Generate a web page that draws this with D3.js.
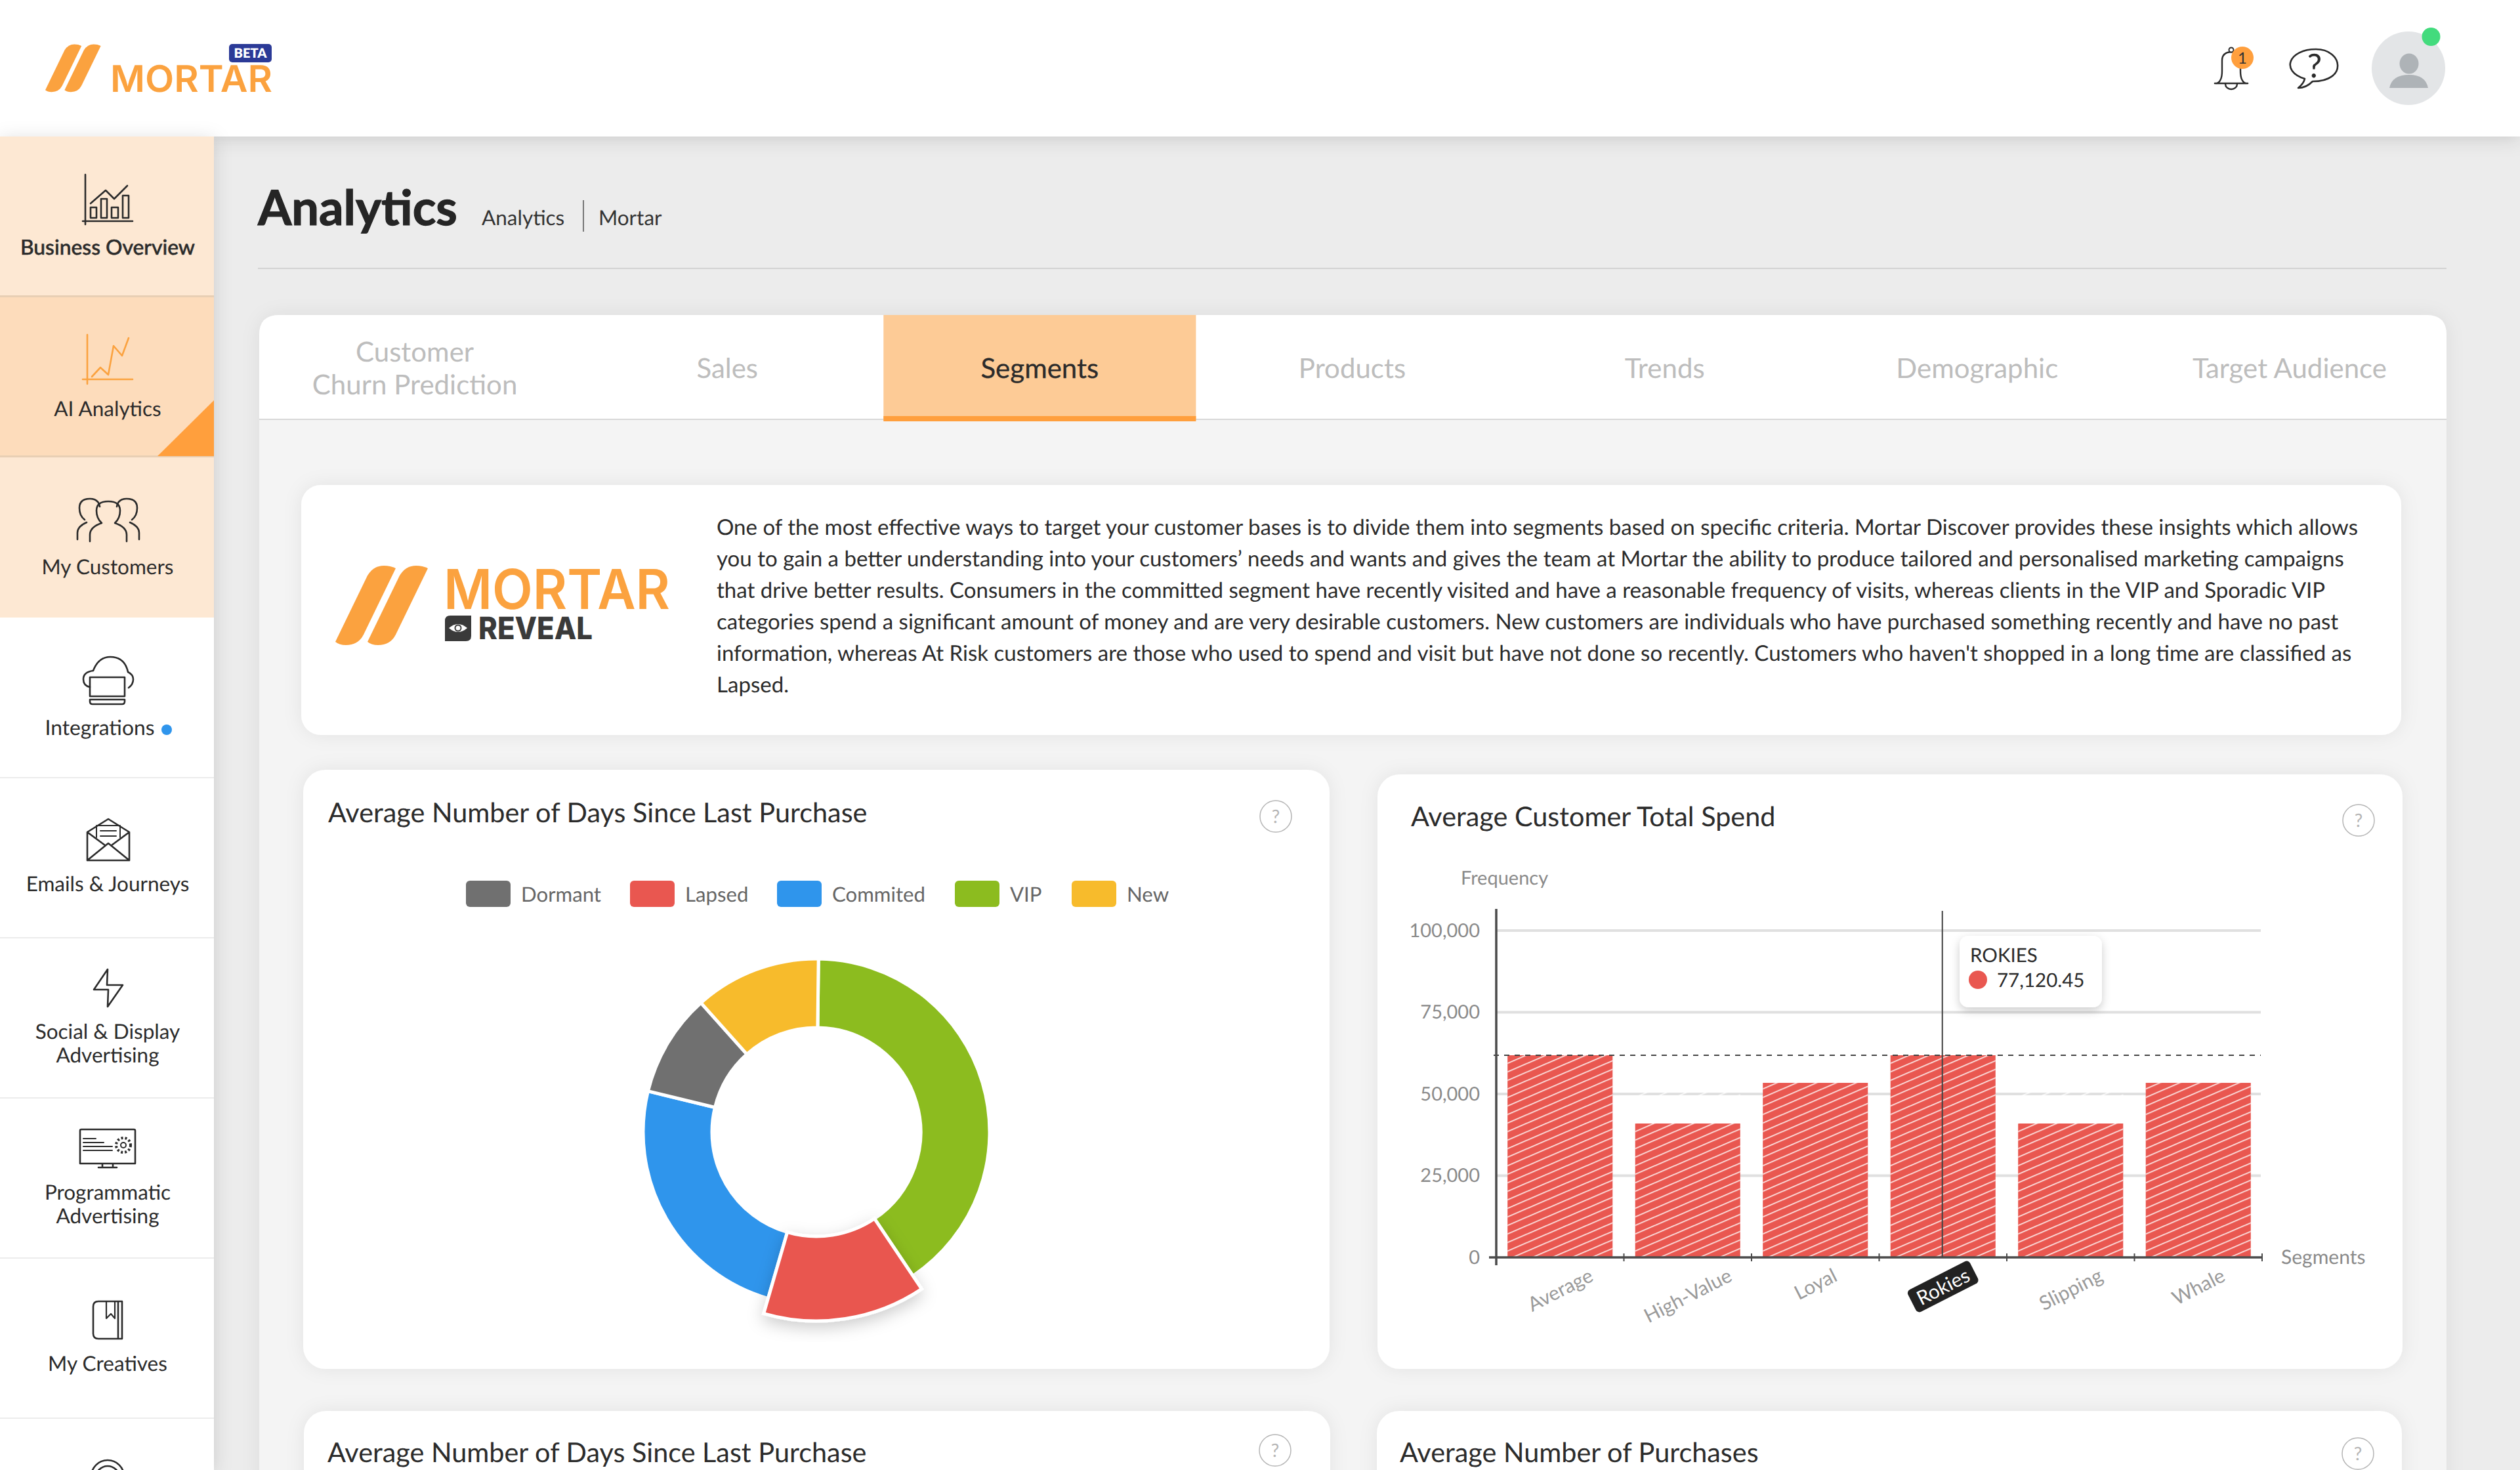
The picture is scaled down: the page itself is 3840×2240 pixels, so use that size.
<!DOCTYPE html>
<html>
<head>
<meta charset="utf-8">
<title>Mortar Analytics</title>
<script src="https://cdnjs.cloudflare.com/ajax/libs/d3/7.8.5/d3.min.js"></script>
<style>
html, body { margin: 0; padding: 0; background: #ececec; overflow: hidden; }
svg { display: block; }
text { font-family: Lato, "Open Sans", sans-serif; text-rendering: geometricPrecision; }
.logo { font-family: Inter, "Open Sans", sans-serif; }
</style>
</head>
<body>
<div id="page"></div>
<script>
// Data
var segmentNames = ["Dormant", "Lapsed", "Commited", "VIP", "New"];
var segmentValues = [9.6, 13.9, 24.3, 40.4, 11.8];
var segmentColors = ["#707070", "#e95750", "#2f95ec", "#8cbc1f", "#f7bb2c"];
var donutOrder = ["VIP", "Commited", "Dormant", "New", "Lapsed"];
var donutClockwise = ["VIP", "Lapsed", "Commited", "Dormant", "New"];

var spendCategories = ["Average", "High-Value", "Loyal", "Rokies", "Slipping", "Whale"];
var spendValues = [61850, 40960, 53400, 61850, 40960, 53400];
var spendTicks = [0, 25000, 50000, 75000, 100000];
var spendAverage = 61850;

var tabNames = [["Customer", "Churn Prediction"], ["Sales"], ["Segments"], ["Products"], ["Trends"], ["Demographic"], ["Target Audience"]];
var introLines = [
    "One of the most effective ways to target your customer bases is to divide them into segments based on specific criteria. Mortar Discover provides these insights which allows",
    "you to gain a better understanding into your customers\u2019 needs and wants and gives the team at Mortar the ability to produce tailored and personalised marketing campaigns",
    "that drive better results. Consumers in the committed segment have recently visited and have a reasonable frequency of visits, whereas clients in the VIP and Sporadic VIP",
    "categories spend a significant amount of money and are very desirable customers. New customers are individuals who have purchased something recently and have no past",
    "information, whereas At Risk customers are those who used to spend and visit but have not done so recently. Customers who haven't shopped in a long time are classified as",
    "Lapsed."
];

var svg = d3.select("#page").append("svg")
    .attr("width", 3840)
    .attr("height", 2240)
    .attr("viewBox", "0 0 3840 2240");

var defs = svg.append("defs");

function addShadow(id, dy, blur, opacity) {
    defs.append("filter")
        .attr("id", id)
        .attr("x", "-20%").attr("y", "-20%")
        .attr("width", "140%").attr("height", "140%")
        .append("feDropShadow")
        .attr("dx", 0).attr("dy", dy)
        .attr("stdDeviation", blur)
        .attr("flood-color", "#000")
        .attr("flood-opacity", opacity);
}
addShadow("cardShadow", 0, 14, 0.07);
addShadow("barShadow", 4, 14, 0.14);
addShadow("tipShadow", 5, 7, 0.2);
addShadow("sliceShadow", 8, 12, 0.2);

// each bar sits in its own translated space so the stripes start the same way on every bar
var hatch = defs.append("pattern")
    .attr("id", "hatch")
    .attr("patternUnits", "userSpaceOnUse")
    .attr("y", 1828.3)
    .attr("width", 30.2)
    .attr("height", 13);
hatch.append("path")
    .attr("d", "M-7.55,16.25 L37.75,-3.25 M-7.55,3.25 L7.55,-3.25 M22.65,16.25 L37.75,9.75")
    .attr("stroke", "#fff")
    .attr("stroke-width", 1.6)
    .attr("fill", "none");

// helpers
function rect(g, x, y, w, h, fill, r) {
    return g.append("rect")
        .attr("x", x).attr("y", y)
        .attr("width", w).attr("height", h)
        .attr("rx", r || 0)
        .attr("fill", fill);
}
function label(g, str, x, y, size, fill, anchor, weight) {
    return g.append("text")
        .attr("x", x).attr("y", y)
        .attr("font-size", size)
        .attr("fill", fill)
        .attr("text-anchor", anchor || "start")
        .attr("font-weight", weight || 400)
        .text(str);
}
function line(g, d, color, w) {
    return g.append("path")
        .attr("d", d)
        .attr("fill", "none")
        .attr("stroke", color || "#2b2b2b")
        .attr("stroke-width", w || 2.6)
        .attr("stroke-linejoin", "round")
        .attr("stroke-linecap", "round");
}
function slashes(g, x, y, k) {
    var s = "M0,117 L49,16 Q58,1 74,1 Q84,1 92,5 L43,106 Q35,122 16,122 Q6,122 0,117 Z";
    var logo = g.append("g").attr("transform", "translate(" + x + "," + y + ") scale(" + k + ")");
    logo.append("path").attr("d", s).attr("fill", "#fba23f");
    logo.append("path").attr("d", s).attr("fill", "#fba23f").attr("transform", "translate(49,0)");
}

// page background
rect(svg, 0, 0, 3840, 2240, "#ececec");

// content panel and heading
label(svg, "Analytics", 393, 343, 74, "#252525", "start", 700)
    .attr("stroke", "#252525").attr("stroke-width", 1.2);
label(svg, "Analytics", 734, 343, 31.5, "#333");
label(svg, "Mortar", 912, 343, 31.5, "#333");
rect(svg, 888, 305, 2, 48, "#777");
rect(svg, 393, 408, 3335, 2, "#d3d3d3");

var panel = svg.append("g");
rect(panel, 395, 480, 3333, 1800, "#f4f4f4", 30).attr("filter", "url(#cardShadow)");
panel.append("path")
    .attr("d", "M395,639 V510 Q395,480 425,480 H3698 Q3728,480 3728,510 V639 Z")
    .attr("fill", "#fff");
rect(panel, 395, 638, 3333, 2, "#d8d8d8");

// tabs
var tabX = d3.scaleBand().domain(d3.range(tabNames.length)).range([395, 3728]);
rect(panel, tabX(2) - 1, 480, tabX.bandwidth(), 159, "#fdcb96");
rect(panel, tabX(2) - 1, 634, tabX.bandwidth(), 8, "#ff9f3d");
tabNames.forEach(function(t, i) {
    var cx = tabX(i) + tabX.bandwidth() / 2 - 1;
    t.forEach(function(s, j) {
        var y = t.length > 1 ? 551 + j * 50 : 576;
        label(panel, s, cx, y, 42, i === 2 ? "#2b2b2b" : "#bdbdbd", "middle", 400)
            .attr("stroke", i === 2 ? "#2b2b2b" : "none").attr("stroke-width", 0.3);
    });
});

// intro card
var intro = svg.append("g");
rect(intro, 459, 739, 3200, 381, "#fff", 30).attr("filter", "url(#cardShadow)");
slashes(intro, 511, 861, 1);
label(intro, "MORTAR", 676, 928, 84, "#fba23f", "start", 600)
    .attr("class", "logo")
    .attr("textLength", 345)
    .attr("lengthAdjust", "spacingAndGlyphs");
label(intro, "REVEAL", 729, 974, 47, "#3a3a3a", "start", 800)
    .attr("class", "logo")
    .attr("textLength", 174)
    .attr("lengthAdjust", "spacingAndGlyphs");
intro.append("path")
    .attr("d", "M686,938 H718 V969 Q718,977 710,977 H678 V946 Q678,938 686,938 Z")
    .attr("fill", "#3a3a3a");
intro.append("path")
    .attr("d", "M684,957 Q698,945 712,957 Q698,969 684,957 Z")
    .attr("fill", "#fff");
intro.append("circle").attr("cx", 698).attr("cy", 957).attr("r", 4.5)
    .attr("fill", "none").attr("stroke", "#3a3a3a").attr("stroke-width", 2);
introLines.forEach(function(s, i) {
    label(intro, s, 1092, 815 + i * 48, 33.05, "#2b2b2b");
});

// card shells
function card(x, y, w, h, title, tx, ty, hx, hy) {
    var g = svg.append("g");
    rect(g, x, y, w, h, "#fff", 34).attr("filter", "url(#cardShadow)");
    label(g, title, tx, ty, 41.4, "#2b2b2b");
    g.append("circle").attr("cx", hx).attr("cy", hy).attr("r", 24)
        .attr("fill", "#fff").attr("stroke", "#b5b5b5").attr("stroke-width", 1.5);
    label(g, "?", hx, hy + 10, 28, "#b5b5b5", "middle");
    return g;
}
var donutCard = card(462, 1173, 1564, 913, "Average Number of Days Since Last Purchase", 500, 1253, 1944, 1244);
var spendCard = card(2099, 1180, 1562, 906, "Average Customer Total Spend", 2150, 1259, 3594, 1250);
card(463, 2150, 1564, 300, "Average Number of Days Since Last Purchase", 499, 2228, 1943, 2210);
card(2098, 2150, 1562, 300, "Average Number of Purchases", 2133, 2228, 3593, 2215);

// legend
var legendX = [710, 960, 1184, 1455, 1633];
var legend = donutCard.selectAll(".legend")
    .data(segmentNames)
    .enter()
    .append("g")
    .attr("class", "legend")
    .attr("transform", function(d, i) { return "translate(" + legendX[i] + ",1342)"; });
legend.append("rect")
    .attr("width", 68)
    .attr("height", 40)
    .attr("rx", 6)
    .attr("fill", function(d, i) { return segmentColors[i]; });
legend.append("text")
    .attr("x", 84)
    .attr("y", 32)
    .attr("font-size", 31.2)
    .attr("fill", "#666")
    .text(function(d) { return d; });

// donut
var segments = segmentNames.map(function(d, i) {
    return { name: d, value: segmentValues[i], color: segmentColors[i] };
});
var donutStart = 0.7 * Math.PI / 180;
var pie = d3.pie()
    .value(function(d) { return d.value; })
    .startAngle(donutStart)
    .endAngle(donutStart + 2 * Math.PI)
    .sort(function(a, b) { return donutClockwise.indexOf(a.name) - donutClockwise.indexOf(b.name); });
var arc = d3.arc()
    .innerRadius(159)
    .outerRadius(function(d) { return d.data.name === "Lapsed" ? 288 : 264; });
var slices = pie(segments).sort(function(a, b) {
    return donutOrder.indexOf(a.data.name) - donutOrder.indexOf(b.data.name);
});
donutCard.append("g")
    .attr("transform", "translate(1244,1725)")
    .selectAll("path")
    .data(slices)
    .enter()
    .append("path")
    .attr("d", arc)
    .attr("fill", function(d) { return d.data.color; })
    .attr("stroke", "#fff")
    .attr("stroke-width", 5)
    .attr("filter", function(d) { return d.data.name === "Lapsed" ? "url(#sliceShadow)" : null; });

// bar chart
var x = d3.scaleBand()
    .domain(spendCategories)
    .range([2280, 3447])
    .paddingInner(0.177)
    .paddingOuter(0.0885);
var y = d3.scaleLinear()
    .domain([0, 100000])
    .range([1916, 1418]);

var grid = spendCard.append("g");
grid.selectAll("line")
    .data(spendTicks.slice(1))
    .enter()
    .append("line")
    .attr("x1", 2280)
    .attr("x2", 3445)
    .attr("y1", function(d) { return y(d); })
    .attr("y2", function(d) { return y(d); })
    .attr("stroke", "#e0e0e0")
    .attr("stroke-width", 4);

// white hatching stays over the grid above the shorter bars
spendCard.append("g").selectAll("rect")
    .data(spendCategories)
    .enter()
    .append("rect")
    .attr("transform", function(d) { return "translate(" + x(d) + ",0)"; })
    .attr("y", y(spendAverage))
    .attr("width", x.bandwidth())
    .attr("height", y(0) - y(spendAverage))
    .attr("fill", "url(#hatch)");

var bars = spendCard.append("g");
bars.selectAll(".bar")
    .data(spendCategories)
    .enter()
    .append("rect")
    .attr("class", "bar")
    .attr("transform", function(d) { return "translate(" + x(d) + ",0)"; })
    .attr("y", function(d, i) { return y(spendValues[i]); })
    .attr("width", x.bandwidth())
    .attr("height", function(d, i) { return y(0) - y(spendValues[i]); })
    .attr("fill", "#e95750");
bars.selectAll(".barHatch")
    .data(spendCategories)
    .enter()
    .append("rect")
    .attr("class", "barHatch")
    .attr("transform", function(d) { return "translate(" + x(d) + ",0)"; })
    .attr("y", function(d, i) { return y(spendValues[i]); })
    .attr("width", x.bandwidth())
    .attr("height", function(d, i) { return y(0) - y(spendValues[i]); })
    .attr("fill", "url(#hatch)");

// average line
spendCard.append("line")
    .attr("x1", 2276)
    .attr("x2", 3445)
    .attr("y1", y(spendAverage))
    .attr("y2", y(spendAverage))
    .attr("stroke", "#444")
    .attr("stroke-width", 2.2)
    .attr("stroke-dasharray", "8 8");

// y axis
var yAxis = spendCard.append("g")
    .attr("transform", "translate(2280,0)")
    .call(d3.axisLeft(y).tickValues(spendTicks).tickSize(0).tickPadding(25).tickFormat(d3.format(",")));
yAxis.select(".domain").remove();
yAxis.selectAll("text")
    .attr("font-family", "Lato")
    .attr("font-size", 29)
    .attr("fill", "#8a8a8a");
spendCard.append("line")
    .attr("x1", 2280).attr("x2", 2280)
    .attr("y1", 1385).attr("y2", 1928)
    .attr("stroke", "#4a4a4a").attr("stroke-width", 3.5);

// x axis
var xAxis = spendCard.append("g")
    .attr("transform", "translate(0,1916)")
    .call(d3.axisBottom(x).tickSize(0).tickPadding(0));
xAxis.select(".domain").remove();
var labelAngle = 27;
var rad = labelAngle * Math.PI / 180;
xAxis.selectAll("text")
    .attr("font-family", "Lato")
    .attr("font-size", 30)
    .attr("dy", 0)
    .attr("y", 0)
    .attr("text-anchor", "middle")
    .attr("dominant-baseline", "central")
    .attr("fill", function(d) { return d === "Rokies" ? "#fff" : "#9a9a9a"; })
    .attr("transform", function() {
        var len = this.getComputedTextLength();
        var cy = 12 + (len * Math.sin(rad) + 29 * Math.cos(rad)) / 2;
        return "translate(0," + cy + ") rotate(" + (-labelAngle) + ")";
    });
xAxis.selectAll(".tick").filter(function(d) { return d === "Rokies"; })
    .insert("rect", "text")
    .each(function() {
        var t = d3.select(this.parentNode).select("text");
        var len = t.node().getComputedTextLength();
        d3.select(this)
            .attr("x", -len / 2 - 10)
            .attr("y", -19)
            .attr("width", len + 20)
            .attr("height", 38)
            .attr("rx", 6)
            .attr("fill", "#222")
            .attr("transform", t.attr("transform"));
    });
spendCard.append("line")
    .attr("x1", 2269).attr("x2", 3447)
    .attr("y1", y(0)).attr("y2", y(0))
    .attr("stroke", "#4a4a4a").attr("stroke-width", 3.5);
spendCard.append("g").selectAll("line")
    .data(spendCategories)
    .enter()
    .append("line")
    .attr("x1", function(d) { return x(d) + x.bandwidth() + x.step() * x.paddingInner() / 2; })
    .attr("x2", function(d) { return x(d) + x.bandwidth() + x.step() * x.paddingInner() / 2; })
    .attr("y1", y(0) - 6)
    .attr("y2", y(0) + 6)
    .attr("stroke", "#4a4a4a")
    .attr("stroke-width", 2);

label(spendCard, "Frequency", 2226, 1348, 29, "#8a8a8a");
label(spendCard, "Segments", 3476, 1926, 30, "#8a8a8a");

// crosshair and tooltip
spendCard.append("line")
    .attr("x1", x("Rokies") + x.bandwidth() / 2 - 1)
    .attr("x2", x("Rokies") + x.bandwidth() / 2 - 1)
    .attr("y1", 1388)
    .attr("y2", y(0))
    .attr("stroke", "#444")
    .attr("stroke-width", 2);
var tip = spendCard.append("g");
rect(tip, 2986, 1426, 217, 109, "#fff", 14).attr("filter", "url(#tipShadow)");
label(tip, "ROKIES", 3002, 1466, 29.5, "#2b2b2b");
tip.append("circle").attr("cx", 3014).attr("cy", 1493).attr("r", 14).attr("fill", "#e95750");
label(tip, "77,120.45", 3043, 1504, 29.5, "#2b2b2b");

// header
var header = svg.append("g");
rect(header, 0, 0, 3840, 208, "#fff").attr("filter", "url(#barShadow)");
slashes(header, 69, 67, 0.6);
label(header, "MORTAR", 168, 140, 56, "#fba23f", "start", 600)
    .attr("class", "logo")
    .attr("textLength", 247)
    .attr("lengthAdjust", "spacingAndGlyphs");
rect(header, 349, 67, 65, 28, "#2b3a97", 5);
label(header, "BETA", 381.5, 88, 20, "#fff", "middle", 800);

// bell
line(header, "M3375,127 H3425", "#2b2b2b", 2.6);
line(header, "M3378,127 Q3386,124 3386,108 V92 Q3386,80 3400,79 Q3413,80 3414,92 V108 Q3414,124 3422,127", "#2b2b2b", 2.4);
line(header, "M3391,128 A9,8 0 0 0 3409,128", "#2b2b2b", 2.4);
header.append("circle").attr("cx", 3400).attr("cy", 76).attr("r", 3.5)
    .attr("fill", "#fff").attr("stroke", "#2b2b2b").attr("stroke-width", 2);
header.append("circle").attr("cx", 3417).attr("cy", 88).attr("r", 17).attr("fill", "#ff9f3d");
label(header, "1", 3417, 97, 24, "#333", "middle");

// chat bubble
line(header, "M3512,120 C3474,108 3488,75 3529,75 C3570,75 3578,124 3524,124 C3518,130 3512,134 3502,134 C3507,130 3511,125 3512,120 Z", "#2b2b2b", 2.6);
label(header, "?", 3527, 118, 50, "#2b2b2b", "middle");

// avatar
header.append("circle").attr("cx", 3670).attr("cy", 104).attr("r", 56).attr("fill", "#e3e5e7");
header.append("ellipse").attr("cx", 3671).attr("cy", 97).attr("rx", 14.5).attr("ry", 15.5).attr("fill", "#aeb3b7");
header.append("path").attr("d", "M3641,134 Q3645,114 3671,114 Q3696,114 3700,134 Z").attr("fill", "#aeb3b7");
header.append("circle").attr("cx", 3704.5).attr("cy", 56).attr("r", 14).attr("fill", "#43db7d");

// sidebar
var side = svg.append("g");
rect(side, 0, 208, 326, 2032, "#fff").attr("filter", "url(#barShadow)");
rect(side, 0, 208, 326, 243, "#fde8d3");
rect(side, 0, 451, 326, 244, "#fddcbb");
rect(side, 0, 695, 326, 246, "#fde8d3");
rect(side, 0, 450, 326, 3, "#e8cfb4");
rect(side, 0, 694, 326, 3, "#e8cfb4");
[1184, 1428, 1672, 1916, 2160].forEach(function(d) { rect(side, 0, d, 326, 2, "#ececec"); });
side.append("path").attr("d", "M326,610 V695 H240 Z").attr("fill", "#ff9f3d");

label(side, "Business Overview", 164, 388, 31.8, "#2b2b2b", "middle", 500)
    .attr("stroke", "#2b2b2b").attr("stroke-width", 0.5);
label(side, "AI Analytics", 164, 634, 31.5, "#2b2b2b", "middle");
label(side, "My Customers", 164, 875, 31.5, "#2b2b2b", "middle");
label(side, "Integrations", 152, 1120, 31.8, "#2b2b2b", "middle");
label(side, "Emails & Journeys", 164, 1358, 31.5, "#2b2b2b", "middle");
label(side, "Social & Display", 164, 1583, 31.5, "#2b2b2b", "middle");
label(side, "Advertising", 164, 1619, 31.5, "#2b2b2b", "middle");
label(side, "Programmatic", 164, 1828, 31.5, "#2b2b2b", "middle");
label(side, "Advertising", 164, 1864, 31.5, "#2b2b2b", "middle");
label(side, "My Creatives", 164, 2089, 31.5, "#2b2b2b", "middle");
side.append("circle").attr("cx", 254).attr("cy", 1112).attr("r", 8).attr("fill", "#2f95ec");

// sidebar icons
line(side, "M130,266 V342 M126,337 H202");
line(side, "M138,310 L161,290 L174,303 L194,283");
line(side, "M138,316 H147 V332 H138 Z M154,303 H163 V332 H154 Z M170,316 H180 V332 H170 Z M187,298 H196 V332 H187 Z");
line(side, "M133,510 V585 M126,578 H202", "#fba23f");
line(side, "M140,574 L153,560 L165,571 L173,527 L186,542 L196,515", "#fba23f");

// people
line(side, "M118,822 V812 Q118,802 132,796 M129,792 Q121,786 121,774 Q121,760 137,760 Q150,760 152,772");
line(side, "M212,822 V812 Q212,802 198,796 M201,792 Q209,786 209,774 Q209,760 193,760 Q180,760 178,772");
line(side, "M137,825 V815 Q137,803 155,797 Q147,790 147,778 Q147,764 165,764 Q183,764 183,778 Q183,790 175,797 Q193,803 193,815 V825");

// cloud laptop
line(side, "M137,1047 Q127,1045 127,1035 Q127,1024 142,1022 Q150,1001 168,1001 Q190,1001 195,1024 Q203,1028 203,1035 Q203,1043 196,1048");
line(side, "M137,1032 H190 V1061 H137 Z M137,1066 H190 V1069 Q190,1073 186,1073 H141 Q137,1073 137,1069 Z");

// envelope
line(side, "M133,1268 L165,1248 L197,1268 V1311 H133 Z M133,1268 L160,1288 M197,1268 L170,1288 M133,1311 L165,1285 L197,1311");
line(side, "M147,1276 V1258 H183 V1276 M153,1266 H177 M153,1274 H177", "#2b2b2b", 2);

// bolt
line(side, "M143,1508 L164,1477 L163,1501 L187,1501 L164,1534 L165,1508 Z");

// screen
line(side, "M124,1721 H204 Q206,1721 206,1723 V1773 H122 V1723 Q122,1721 124,1721 Z M150,1779 H178 M156,1774 V1779 M172,1774 V1779");
line(side, "M127,1735 H146 M127,1741 H158 M127,1747 H171 M127,1753 H171", "#2b2b2b", 2);
side.append("circle").attr("cx", 188).attr("cy", 1745).attr("r", 11)
    .attr("fill", "none").attr("stroke", "#2b2b2b").attr("stroke-width", 4).attr("stroke-dasharray", "3 3");
side.append("circle").attr("cx", 188).attr("cy", 1745).attr("r", 4)
    .attr("fill", "none").attr("stroke", "#2b2b2b").attr("stroke-width", 2);

// book
line(side, "M150,1983 H186 V2040 H150 Q142,2040 142,2032 V1991 Q142,1983 150,1983 Z M180,1983 V2040");
line(side, "M162,1984 V2009 L169,2002 L175,2009 V1984", "#2b2b2b", 2.2);

// clipped icon at the bottom
side.append("circle").attr("cx", 164).attr("cy", 2250).attr("r", 25)
    .attr("fill", "none").attr("stroke", "#2b2b2b").attr("stroke-width", 2.6);
side.append("circle").attr("cx", 164).attr("cy", 2252).attr("r", 18)
    .attr("fill", "none").attr("stroke", "#2b2b2b").attr("stroke-width", 2.6);
</script>
</body>
</html>
